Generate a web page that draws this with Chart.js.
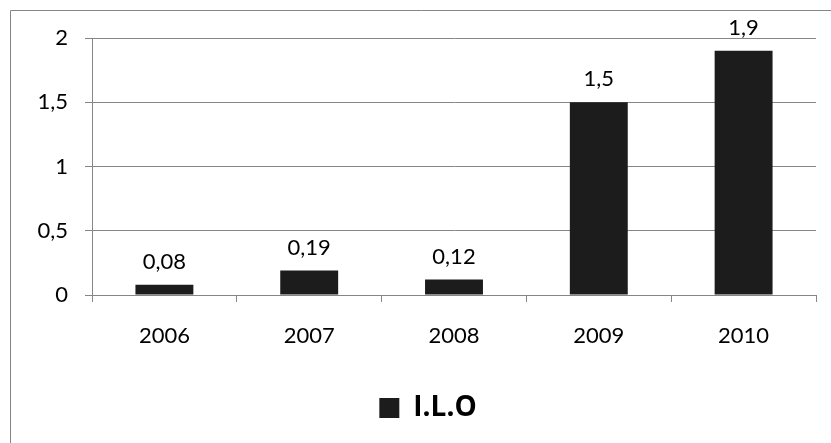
<!DOCTYPE html>
<html>
<head>
<meta charset="utf-8">
<script src="https://cdn.jsdelivr.net/npm/chart.js@4.4.1/dist/chart.umd.min.js"></script>
<style>
    html, body { margin: 0; padding: 0; background: #ffffff; overflow: hidden; }
    #wrap { position: relative; width: 831px; height: 443px; }
</style>
</head>
<body>
<div id="wrap"><canvas id="iloChart" width="831" height="443"></canvas></div>
<script>
    // data
    const years = ['2006', '2007', '2008', '2009', '2010'];
    const iloValues = [0.08, 0.19, 0.12, 1.5, 1.9];
    const yTickLabels = ['0', '0,5', '1', '1,5', '2'];
    const seriesName = 'I.L.O';

    const gridGray = '#868686';
    const fontFamily = 'Lato, "Liberation Sans", sans-serif';

    // 0.08 -> 0,08
    function commaNum(v) {
        return String(v).replace('.', ',');
    }

    // khung ngoài (chỉ thấy cạnh trái và cạnh trên)
    const framePlugin = {
        id: 'frame',
        afterLayout(chart) {
            // đẩy chú thích sang phải một chút
            chart.legend.left += 20;
            chart.legend.right += 20;
        },
        beforeDraw(chart) {
            const ctx = chart.ctx;
            ctx.save();
            ctx.strokeStyle = gridGray;
            ctx.lineWidth = 1;
            ctx.beginPath();
            ctx.moveTo(10.5, chart.height + 5);
            ctx.lineTo(10.5, 10.5);
            ctx.lineTo(chart.width + 5, 10.5);
            ctx.stroke();
            ctx.restore();
        }
    };

    // nhãn giá trị trên đầu mỗi cột
    const valueLabels = {
        id: 'valueLabels',
        afterDatasetsDraw(chart) {
            const ctx = chart.ctx;
            const meta = chart.getDatasetMeta(0);
            ctx.save();
            ctx.font = '22px ' + fontFamily;
            ctx.fillStyle = '#000000';
            ctx.textAlign = 'center';
            ctx.textBaseline = 'alphabetic';
            meta.data.forEach((bar, i) => {
                ctx.fillText(commaNum(iloValues[i]), bar.x, bar.y - 16);
            });
            ctx.restore();
        }
    };

    const ctx = document.getElementById('iloChart').getContext('2d');
    const iloChart = new Chart(ctx, {
        type: 'bar',
        data: {
            labels: years,
            datasets: [{
                label: seriesName,
                data: iloValues,
                backgroundColor: '#1c1c1c',
                borderWidth: 0,
                barPercentage: 0.8,
                categoryPercentage: 0.5
            }]
        },
        options: {
            responsive: false,
            animation: false,
            layout: {
                padding: { left: 0, right: 15, top: 38, bottom: 11 }
            },
            plugins: {
                legend: {
                    display: true,
                    position: 'bottom',
                    labels: {
                        color: '#000000',
                        font: { family: '"Open Sans", sans-serif', size: 28, weight: 'bold' },
                        boxWidth: 20,
                        boxHeight: 20,
                        padding: 10
                    }
                },
                tooltip: { enabled: false }
            },
            scales: {
                x: {
                    grid: {
                        display: true,
                        drawOnChartArea: false,
                        drawTicks: true,
                        tickLength: 7,
                        color: gridGray
                    },
                    border: { display: true, color: gridGray },
                    ticks: {
                        color: '#000000',
                        font: { family: fontFamily, size: 22 },
                        padding: 21
                    },
                    afterFit(scale) {
                        scale.height = 89;
                    }
                },
                y: {
                    min: 0,
                    max: 2,
                    grid: {
                        color: gridGray,
                        tickLength: 7
                    },
                    border: { display: true, color: gridGray },
                    ticks: {
                        stepSize: 0.5,
                        color: '#000000',
                        font: { family: fontFamily, size: 22 },
                        padding: 17,
                        callback: (v, i) => yTickLabels[i]
                    },
                    afterFit(scale) {
                        scale.width = 92;
                    }
                }
            }
        },
        plugins: [framePlugin, valueLabels]
    });
</script>
</body>
</html>
